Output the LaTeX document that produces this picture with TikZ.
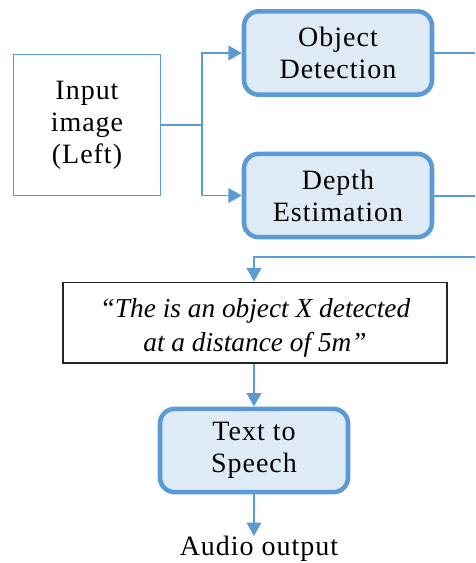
\documentclass[tikz,border=0pt]{standalone}
\usepackage{fontspec}
\setmainfont{Liberation Serif}[LetterSpace=3.5,ItalicFeatures={LetterSpace=0}]
\usetikzlibrary{arrows.meta}
\definecolor{blueline}{HTML}{5B9BD5}
\definecolor{bluefill}{HTML}{DEEAF6}
\begin{document}
\begin{tikzpicture}[x=0.75pt,y=-0.75pt,
  font=\fontsize{21}{24}\selectfont,
  conn/.style={draw=blueline,line width=1.1pt},
  arr/.style={conn,-{Triangle[length=10pt,width=11pt]}},
  procbox/.style={draw=blueline,fill=bluefill,line width=3.4pt,rounded corners=11pt,
    minimum width=141pt,minimum height=62.5pt,align=center,inner sep=0pt},
  plainbox/.style={draw=blueline,line width=1.1pt,minimum width=110pt,minimum height=106pt,align=center,inner sep=0pt},
  quotebox/.style={draw=black!85,line width=1pt,minimum width=288pt,minimum height=60.5pt,align=center,inner sep=0pt,
    font=\fontsize{20.5}{25}\selectfont\itshape},
  lbl/.style={align=center,inner sep=0pt}]
\useasboundingbox (0,0) rectangle (475,563);
\node[plainbox] (in) at (87,125) {Input\\image\\(Left)};
\node[procbox] (od) at (338,53) {Object\\Detection};
\node[procbox] (de) at (338,195.5) {Depth\\Estimation};
\node[quotebox] (tb) at (255,322.5) {\raisebox{-4pt}[\height][\depth]{\begin{tabular}{@{}c@{}}“The is an object X detected\\[1pt]at a distance of 5m”\end{tabular}}};
\node[procbox] (tts) at (254,450.5) {Text to\\Speech};
\node[lbl,anchor=north] (out) at (259,536) {Audio output};
\coordinate (split) at (202,125);
\coordinate (rod) at (475,53);
\coordinate (rde) at (475,196);
\coordinate (rtop) at (475,257);
\coordinate (bend) at (254,257);
\draw[conn] (in.east) -- (split);
\draw[arr] (split) |- (od.west);
\draw[arr] (split) |- (de.west);
\draw[conn] (od.east) -- (rod);
\draw[conn] (de.east |- rde) -- (rde);
\draw[arr] (rtop) -- (bend) -- (tb.north -| bend);
\draw[arr] (tb.south -| tts.north) -- (tts.north);
\draw[arr] (tts.south) -- (tts.south |- out.north);
\end{tikzpicture}
\end{document}
